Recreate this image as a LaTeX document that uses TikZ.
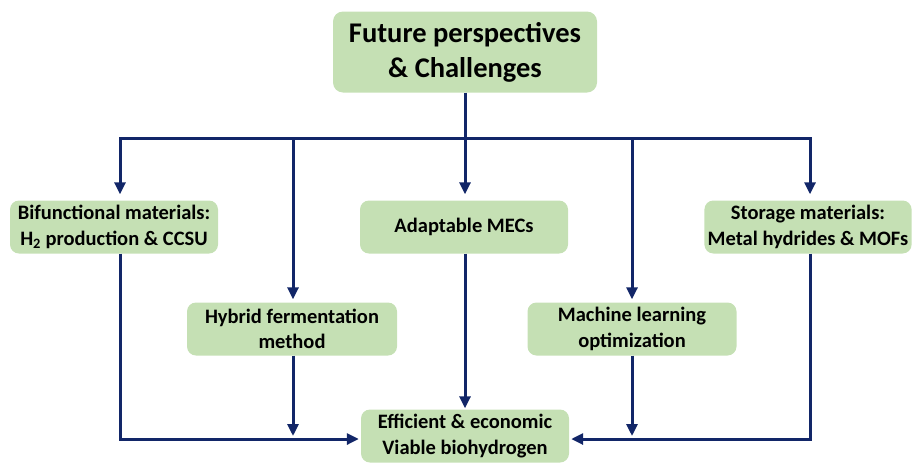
\documentclass[tikz,border=0pt]{standalone}
\usepackage{fontspec}
\setmainfont{Carlito}
\usepackage{tikz}
\usetikzlibrary{positioning}
\usetikzlibrary{arrows.meta}
\definecolor{boxgreen}{RGB}{197,224,180}
\definecolor{navy}{RGB}{18,38,104}
\tikzset{
  topbox/.style={rounded corners=10pt, fill=boxgreen, minimum width=264pt,
    minimum height=81pt, align=center, font=\fontsize{28.5}{35}\selectfont\bfseries},
  sidebox/.style={rounded corners=9pt, fill=boxgreen, minimum width=208pt,
    minimum height=53pt, align=center, font=\fontsize{20.5}{25.5}\selectfont\bfseries},
  link/.style={navy, line width=3pt},
  arr/.style={link, -{Triangle[length=12pt,width=11pt]}}
}

\begin{document}
\begin{tikzpicture}[x=1pt,y=-1pt]
\useasboundingbox (0,0) rectangle (912,464);

% ================= Boxes =================
\node[topbox]  (top)   at (465,52)  {Future perspectives\\\& Challenges};
\node[sidebox] (bif)   at (114,227) {Bifunctional materials:\\H\textsubscript{2} production \& CCSU};
\node[sidebox] (adapt) at (464,227) {Adaptable MECs};
\node[sidebox, minimum width=204pt] (stor) at (808,227) {Storage materials:\\Metal hydrides \& MOFs};
\node[sidebox, minimum width=210pt] (hyb) at (292,329) {Hybrid fermentation\\method};
\node[sidebox, minimum width=209pt] (mach) at (632,329) {Machine learning\\optimization};
\node[sidebox] (eff)   at (465,436) {Efficient \& economic\\Viable biohydrogen};

% ================= Bus lines =================
\coordinate (bus)  at (465,138);
\coordinate (busL) at (120,138);
\coordinate (busR) at (810,138);
\coordinate (hybX) at (293,138);
\coordinate (machX) at (632,138);

\draw[link] (top.south) -- (bus);
\draw[link, line cap=rect] (busL) -- (busR);

% ================= Down to the boxes =================
\draw[arr, shorten >=6pt] (busL) -- (busL |- bif.north);
\draw[arr, shorten >=3pt] (hybX) -- (hybX |- hyb.north);
\draw[arr, shorten >=6pt] (bus) -- (bus |- adapt.north);
\draw[arr, shorten >=3pt] (machX) -- (machX |- mach.north);
\draw[arr, shorten >=6pt] (busR) -- (busR |- stor.north);

% ================= Into the result =================
\draw[arr, shorten >=2pt] (busL |- bif.south) |- ([yshift=-3pt]eff.west);
\draw[arr, shorten >=2pt] (busR |- stor.south) |- ([yshift=-3pt]eff.east);
\draw[arr] (hybX |- hyb.south) -- (hybX |- eff.west);
\draw[arr] (machX |- mach.south) -- (machX |- eff.west);
\draw[arr, shorten >=1pt] (bus |- adapt.south) -- (bus |- eff.north);
\end{tikzpicture}
\end{document}
